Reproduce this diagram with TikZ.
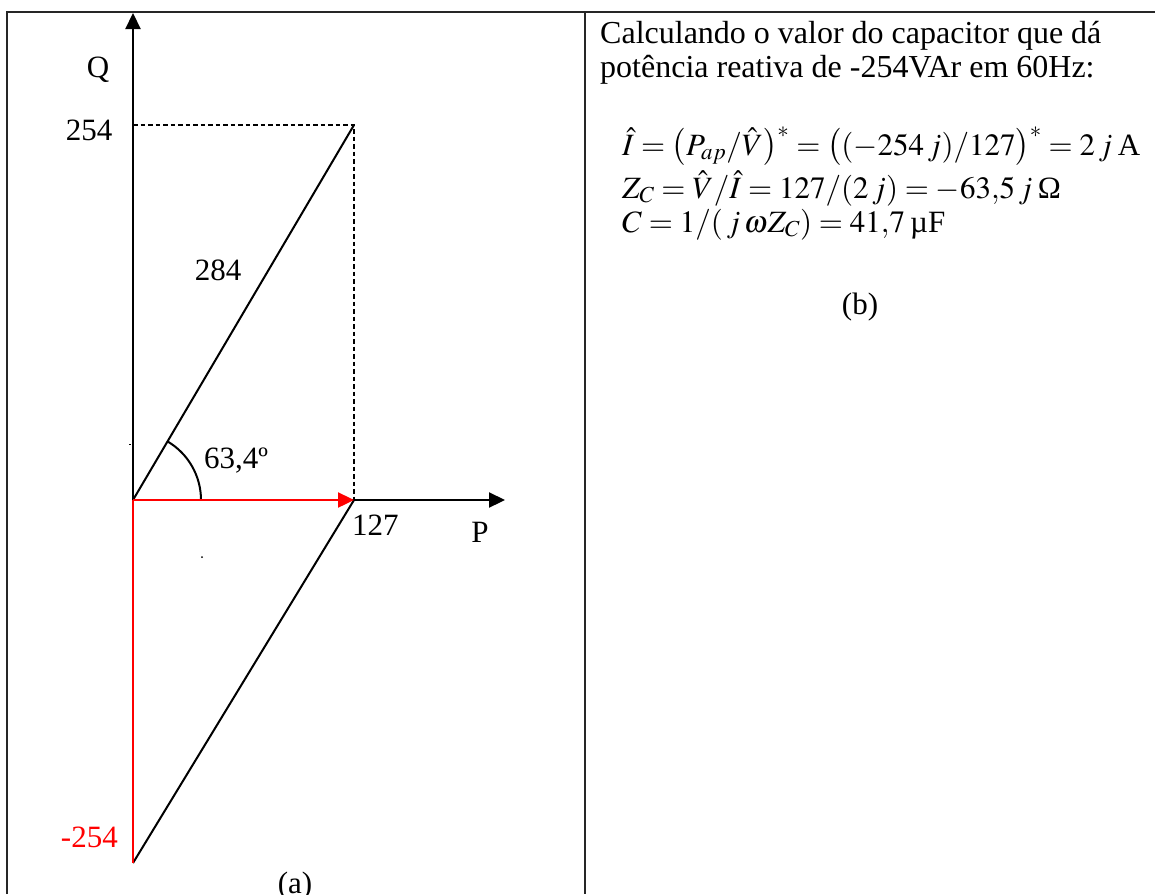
\documentclass[tikz,border=0pt]{standalone}
\usepackage{mathptmx}
\usepackage{fontspec}
\setmainfont{Liberation Serif}
\usetikzlibrary{arrows.meta}
\begin{document}
\begin{tikzpicture}[x=1pt,y=-1pt,
  every node/.style={font=\fontsize{31}{36}\selectfont, inner sep=0pt},
  txt/.style={font=\fontsize{32}{36}\selectfont, anchor=base west},
  eq/.style={font=\fontsize{31}{36}\selectfont, anchor=base west},
  frame/.style={line width=1.4pt, draw=black!85},
  axis/.style={line width=2.2pt, -{Triangle[length=16pt,width=15pt]}},
  thin/.style={line width=2pt},
  guide/.style={line width=1.8pt, dash pattern=on 4.5pt off 3pt},
  vec/.style={line width=2.4pt, red},
  lbl/.style={anchor=base}]
\useasboundingbox (0,0) rectangle (1155,894);
% table frame
\draw[frame] (7,894) -- (7,12) -- (1155,12);
\draw[frame] (585,12) -- (585,894);
% points
\coordinate (O) at (133,500);
\coordinate (Qtop) at (133,13);
\coordinate (Pend) at (505,500);
\coordinate (R) at (354,500);
\coordinate (T) at (354,125);
\coordinate (Y) at (133,125);
\coordinate (B) at (133,863);
% axes
\draw[axis] (O) -- (Qtop);
\draw[axis] (O) -- (Pend);
% guides
\draw[guide] (Y) -- (T) -- (R);
% triangle sides
\draw[thin] (O) -- (T);
\draw[thin] (R) -- (B);
\draw[thin] (O) ++(68,0) arc[start angle=0, end angle=-59.4, radius=68];
% red vectors
\draw[vec] (O) -- (B);
\draw[vec, -{Triangle[length=16pt,width=15pt]}] (O) -- (R);
% small marks
\draw[line width=1pt] (129,444) -- (131,444);
\fill (202,557) circle[radius=1pt];
% labels
\node[lbl] (lQ) at (98,77) {Q};
\node[lbl] (l254) at (89,140) {254};
\node[lbl] (l284) at (218,280) {284};
\node[anchor=base west] (lang) at (204,468) {63,4º};
\node[anchor=base west] (l127) at (352,535) {127};
\node[lbl] (lP) at (480,542) {P};
\node[anchor=base east, text=red] (lm254) at (118,847) {-254};
\node[lbl] (la) at (295,893) {(a)};
% right panel
\node[txt] (t1) at (600,43) {Calculando o valor do capacitor que dá};
\node[txt] (t2) at (600,77) {potência reativa de -254VAr em 60Hz:};
\node[eq] (e1) at (622,155) {$\hat{I} = \bigl(P_{ap}/\hat{V}\bigr)^{*} = \bigl((-254\,j)/127\bigr)^{*} = 2\,j$\,A};
\node[eq] (e2) at (622,198) {$Z_C = \hat{V}/\hat{I} = 127/(2\,j) = -63{,}5\,j$\,Ω};
\node[eq] (e3) at (622,232) {$C = 1/(\,j\,\omega Z_C) = 41{,}7$\,µF};
\node[lbl] (lb) at (860,314) {(b)};
\end{tikzpicture}
\end{document}
